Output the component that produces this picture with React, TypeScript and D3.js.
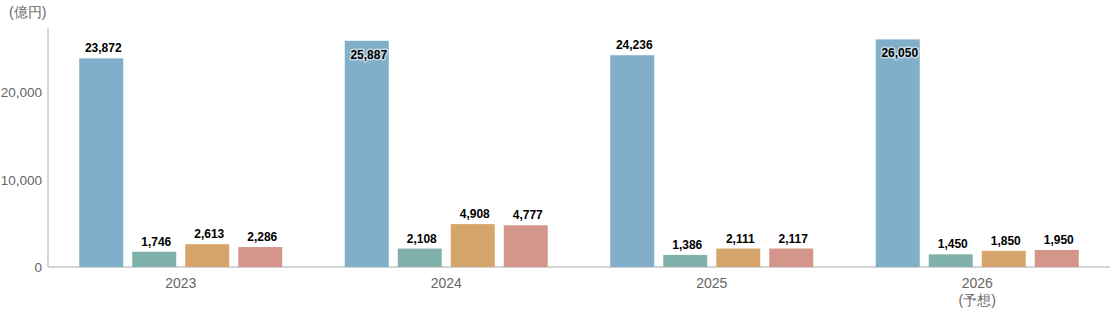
import React, {useEffect, useRef} from 'react';
import * as d3 from "d3";

const years = ["2023", "2024", "2025", "2026"];
const yearNotes = ["", "", "", "(予想)"];
const seriesNames = ["s1", "s2", "s3", "s4"];
const seriesColors = ["#81aec8", "#80b0aa", "#d6a56b", "#d4968a"];
const s1 = [23872, 25887, 24236, 26050];
const s2 = [1746, 2108, 1386, 1450];
const s3 = [2613, 4908, 2111, 1850];
const s4 = [2286, 4777, 2117, 1950];
const yTicks = [0, 10000, 20000];
const unitLabel = "(億円)";

const App = () => {
    const ref = useRef<SVGSVGElement>(null);

    useEffect(() => {
        const width = 1113, height = 310;
        const margin = {top: 28, right: 3, bottom: 43, left: 48};
        const values = [s1, s2, s3, s4];

        const svg = d3.select(ref.current);
        svg.selectAll("*").remove();

        const maxVal = d3.max(values.flat()) as number;

        const x0 = d3.scaleBand()
            .domain(years)
            .range([margin.left, width - margin.right]);

        const x1 = d3.scaleBand()
            .domain(seriesNames)
            .range([0, x0.bandwidth()])
            .paddingInner(0.17)
            .paddingOuter(0.59);

        const y = d3.scaleLinear()
            .domain([0, maxVal * 1.05])
            .range([height - margin.bottom, margin.top]);

        const grey = "#666";
        const font = "'Liberation Sans', Arial, sans-serif";

        //unit label
        svg.append("text")
            .attr("x", 9)
            .attr("y", 17)
            .attr("fill", grey)
            .attr("font-family", font)
            .attr("font-size", 14)
            .text(unitLabel);

        //y axis
        svg.append("line")
            .attr("x1", margin.left).attr("x2", margin.left)
            .attr("y1", y.range()[1]).attr("y2", y(0))
            .attr("stroke", "#aaa");

        svg.append("g").selectAll("text")
            .data(yTicks)
            .join("text")
            .attr("x", margin.left - 6)
            .attr("y", d => y(d) + 5)
            .attr("text-anchor", "end")
            .attr("fill", grey)
            .attr("font-family", font)
            .attr("font-size", 13.5)
            .text(d => d3.format(",")(d));

        //x axis
        svg.append("line")
            .attr("x1", margin.left).attr("x2", width - margin.right)
            .attr("y1", y(0)).attr("y2", y(0))
            .attr("stroke", "#aaa");

        const xl = svg.append("g").selectAll("text")
            .data(years)
            .join("text")
            .attr("x", d => (x0(d) as number) + x0.bandwidth() / 2)
            .attr("y", y(0) + 21)
            .attr("text-anchor", "middle")
            .attr("fill", grey)
            .attr("font-family", font)
            .attr("font-size", 14);
        xl.append("tspan").text(d => d);
        xl.append("tspan")
            .attr("x", d => (x0(d) as number) + x0.bandwidth() / 2)
            .attr("dy", 17)
            .text((d, i) => yearNotes[i]);

        //bars
        const groups = svg.append("g").selectAll("g")
            .data(years)
            .join("g")
            .attr("transform", d => `translate(${x0(d)},0)`);

        groups.each(function (yr, yi) {
            const g = d3.select(this);
            seriesNames.forEach((s, si) => {
                const v = values[si][yi];
                const bx = x1(s) as number;
                const bw = x1.bandwidth();
                g.append("rect")
                    .attr("x", bx)
                    .attr("y", y(v))
                    .attr("width", bw)
                    .attr("height", y(0) - y(v))
                    .attr("fill", seriesColors[si]);

                //label goes inside the bar when there's no room above
                const inside = y(v) - 16 < margin.top;
                g.append("text")
                    .attr("x", bx + bw / 2 + 2)
                    .attr("y", inside ? y(v) + 18 : y(v) - 6)
                    .attr("text-anchor", "middle")
                    .attr("font-family", "'Liberation Sans Narrow', 'Arial Narrow', sans-serif")
                    .attr("font-weight", "bold")
                    .attr("font-size", 12)
                    .attr("fill", "#000")
                    .attr("stroke", "#fff")
                    .attr("stroke-opacity", 0.5)
                    .attr("stroke-width", 3)
                    .attr("stroke-linejoin", "round")
                    .attr("paint-order", "stroke")
                    .text(d3.format(",")(v));
            });
        });
    }, []);

    return (
        <svg ref={ref} width={1113} height={310}
             style={{position: "absolute", left: 0, top: 0, background: "#fff"}}/>
    );
};

export default App;
